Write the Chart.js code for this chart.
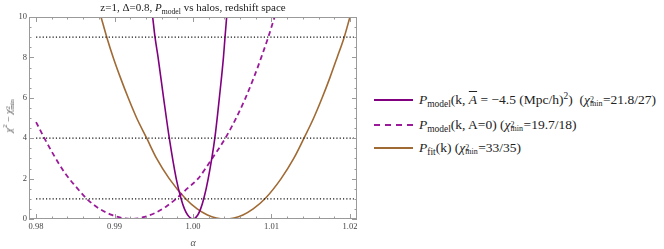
<!DOCTYPE html>
<html lang="en">
<head>
  <meta charset="UTF-8" />
  <title>chi2 vs alpha</title>
  <script src="https://cdn.jsdelivr.net/npm/chart.js"></script>
  <style>
    body { margin: 0; background: #fff; font-family: "Liberation Serif", serif; color: #222; }
    #wrap { position: relative; width: 664px; height: 249px; overflow: hidden; }
    #chartBox { position: absolute; left: 0; top: 0; width: 362px; height: 249px; }
    #title { position: absolute; left: 0; top: 0; width: 386px; text-align: center; font-size: 11px; line-height: 14px; color: #222; }
    #ytitle { position: absolute; left: 8px; top: 116px; transform: translate(-50%, -50%) rotate(-90deg); font-size: 10px; white-space: nowrap; color: #555; }
    .row { position: absolute; left: 374px; height: 16px; font-size: 13.5px; white-space: nowrap; }
    .sw { position: absolute; left: 0; width: 39px; top: 7px; }
    .sw.solid1 { border-top: 2px solid #800080; }
    .sw.dash { border-top: 2px dashed #9a1a9a; }
    .sw.solid2 { border-top: 2px solid #a06a35; }
    .txt { position: absolute; left: 45px; top: 0; line-height: 16px; }
    sub { font-size: 70%; vertical-align: -3px; line-height: 0; }
    sup { font-size: 70%; vertical-align: 5px; line-height: 0; }
    .ss { display: inline-block; position: relative; width: 13px; height: 10px; }
    .ss .u { position: absolute; left: 0; top: 0.5px; font-size: 8px; line-height: 9px; }
    .ss .d { position: absolute; left: 0; top: 4.5px; font-size: 8px; line-height: 9px; }
    #ytitle .ss { width: 10px; }
    #ytitle .ss .u, #ytitle .ss .d { font-size: 6.5px; }
    .ov { text-decoration: overline; }
  </style>
</head>
<body>
<div id="wrap">
  <div id="chartBox"><canvas id="chiChart"></canvas></div>
  <div id="title">z=1, &Delta;=0.8, <i>P</i><sub>model</sub> vs halos, redshift space</div>
  <div id="ytitle"><i>&chi;</i><sup>2</sup> &minus; <i>&chi;</i><span class="ss"><span class="u">2</span><span class="d">min</span></span></div>

  <div class="row" style="top:92px;"><span class="sw solid1"></span>
    <span class="txt"><i>P</i><sub>model</sub>(k, <i class="ov">A</i> = &minus;4.5 (Mpc/h)<sup>2</sup>)&nbsp;&nbsp;(<i>&chi;</i><span class="ss"><span class="u">2</span><span class="d">min</span></span>=21.8/27)</span></div>
  <div class="row" style="top:117px;"><span class="sw dash"></span>
    <span class="txt"><i>P</i><sub>model</sub>(k, A=0) (<i>&chi;</i><span class="ss"><span class="u">2</span><span class="d">min</span></span>=19.7/18)</span></div>
  <div class="row" style="top:140px;"><span class="sw solid2"></span>
    <span class="txt"><i>P</i><sub>fit</sub>(k) (<i>&chi;</i><span class="ss"><span class="u">2</span><span class="d">min</span></span>=33/35)</span></div>
</div>

<script>
  // axis ticks
  const xTicks = [0.98, 0.99, 1.00, 1.01, 1.02];
  const yTicks = [0, 2, 4, 6, 8, 10];

  // P_model(k, Abar = -4.5)
  const solidAlpha = [0.99486, 0.99516, 0.99555, 0.99625, 0.99698, 0.99786, 0.99848, 0.99891, 0.99932, 1.0000,
                      1.00061, 1.00097, 1.00137, 1.00194, 1.00278, 1.00336, 1.00388, 1.00408, 1.00429];
  const solidChi   = [10, 9, 8, 6, 4, 2, 1, 0.5, 0.2, 0,
                      0.2, 0.5, 1, 2, 4, 6, 8, 9, 10];

  // P_model(k, A=0)
  const dashAlpha = [0.98, 0.98106, 0.98220, 0.98369, 0.98497, 0.98646, 0.98794, 0.98964, 0.99100, 0.99195,
                     0.99327, 0.99381, 0.99517, 0.99651, 0.99785, 0.99925, 1.00065, 1.00245, 1.00412, 1.00550,
                     1.00670, 1.00775, 1.00870, 1.00959, 1.01040];
  const dashChi   = [4.8, 4.0, 3.2, 2.27, 1.65, 1.0, 0.54, 0.2, 0.05, 0,
                     0.05, 0.1, 0.3, 0.6, 1.0, 1.5, 2.0, 3.0, 4.0, 5.0,
                     6.0, 7.0, 8.0, 9.0, 10.0];

  // P_fit(k)
  const fitAlpha = [0.98828, 0.98901, 0.98983, 0.99075, 0.99174, 0.99282, 0.99410, 0.99536, 0.99697, 0.99906,
                    1.00053, 1.00184, 1.00297, 1.0041, 1.00523, 1.00636, 1.00767, 1.00917, 1.01123, 1.01284,
                    1.01414, 1.01538, 1.01646, 1.01745, 1.01837, 1.01927, 1.0200];
  const fitChi   = [10, 9, 8, 7, 6, 5, 4, 3, 2, 1,
                    0.5, 0.2, 0.05, 0, 0.05, 0.2, 0.5, 1, 2, 3,
                    4, 5, 6, 7, 8, 9, 10];

  // dotted confidence levels
  const levels = [1, 4, 9];
  const levelRange = [0.98, 1.0205];

  const pts = (xs, ys) => xs.map((v, i) => ({ x: v, y: ys[i] }));

  const datasets = levels.map(l => ({
    data: levelRange.map(v => ({ x: v, y: l })),
    borderColor: "#111",
    borderWidth: 1.3,
    borderDash: [1.2, 2.1],
    pointRadius: 0
  }));
  datasets.push(
    { data: pts(solidAlpha, solidChi), borderColor: "#800080", borderWidth: 1.6,
      pointRadius: 0, cubicInterpolationMode: "monotone" },
    { data: pts(dashAlpha, dashChi), borderColor: "#9a1a9a", borderWidth: 1.8, borderDash: [5, 3.5],
      pointRadius: 0, cubicInterpolationMode: "monotone" },
    { data: pts(fitAlpha, fitChi), borderColor: "#a06a35", borderWidth: 1.6,
      pointRadius: 0, cubicInterpolationMode: "monotone" }
  );

  // frame with inward ticks, like the original plot
  const frameTicks = {
    id: "frameTicks",
    afterDraw(chart) {
      const { ctx, chartArea: a, scales: { x, y } } = chart;
      ctx.save();
      ctx.strokeStyle = "#9a9a9a";
      ctx.lineWidth = 1;
      ctx.strokeRect(a.left + 0.5, a.top + 0.5, a.right - a.left - 1, a.bottom - a.top - 1);
      ctx.beginPath();
      for (let v = 0.98; v <= 1.0201; v += 0.002) {
        const px = Math.round(x.getPixelForValue(v)) + 0.5;
        const major = xTicks.some(t => Math.abs(t - v) < 1e-6);
        const len = major ? 5 : 2.5;
        ctx.moveTo(px, a.bottom); ctx.lineTo(px, a.bottom - len);
        ctx.moveTo(px, a.top); ctx.lineTo(px, a.top + len);
      }
      for (let v = 0; v <= 10.001; v += 0.5) {
        const py = Math.round(y.getPixelForValue(v)) + 0.5;
        const major = yTicks.includes(v);
        const len = major ? 5 : 2.5;
        ctx.moveTo(a.left, py); ctx.lineTo(a.left + len, py);
        ctx.moveTo(a.right, py); ctx.lineTo(a.right - len, py);
      }
      ctx.stroke();
      ctx.restore();
    }
  };

  Chart.defaults.font.family = "'Liberation Serif', serif";

  new Chart(document.getElementById("chiChart"), {
    type: "line",
    data: { datasets: datasets },
    options: {
      responsive: true,
      maintainAspectRatio: false,
      animation: false,
      layout: { padding: { left: 0, top: 17, right: 5, bottom: 0 } },
      plugins: { legend: { display: false }, tooltip: { enabled: false } },
      scales: {
        x: {
          type: "linear",
          min: 0.9791,
          max: 1.0209,
          afterBuildTicks: s => { s.ticks = xTicks.map(v => ({ value: v })); },
          afterFit: s => { s.height = 30; },
          grid: { display: false, drawTicks: false },
          border: { display: false },
          ticks: { padding: 3, color: "#444", font: { size: 8.5 }, maxRotation: 0, autoSkip: false,
                   callback: v => v.toFixed(2) },
          title: { display: true, text: "α", color: "#555", font: { size: 10, style: "italic" },
                   padding: { top: 0, bottom: 0 } }
        },
        y: {
          min: 0,
          max: 10,
          afterBuildTicks: s => { s.ticks = yTicks.map(v => ({ value: v })); },
          afterFit: s => { s.width = 29; },
          grid: { display: false, drawTicks: false },
          border: { display: false },
          ticks: { padding: 2, color: "#444", font: { size: 8.5 } }
        }
      }
    },
    plugins: [frameTicks]
  });
</script>
</body>
</html>
